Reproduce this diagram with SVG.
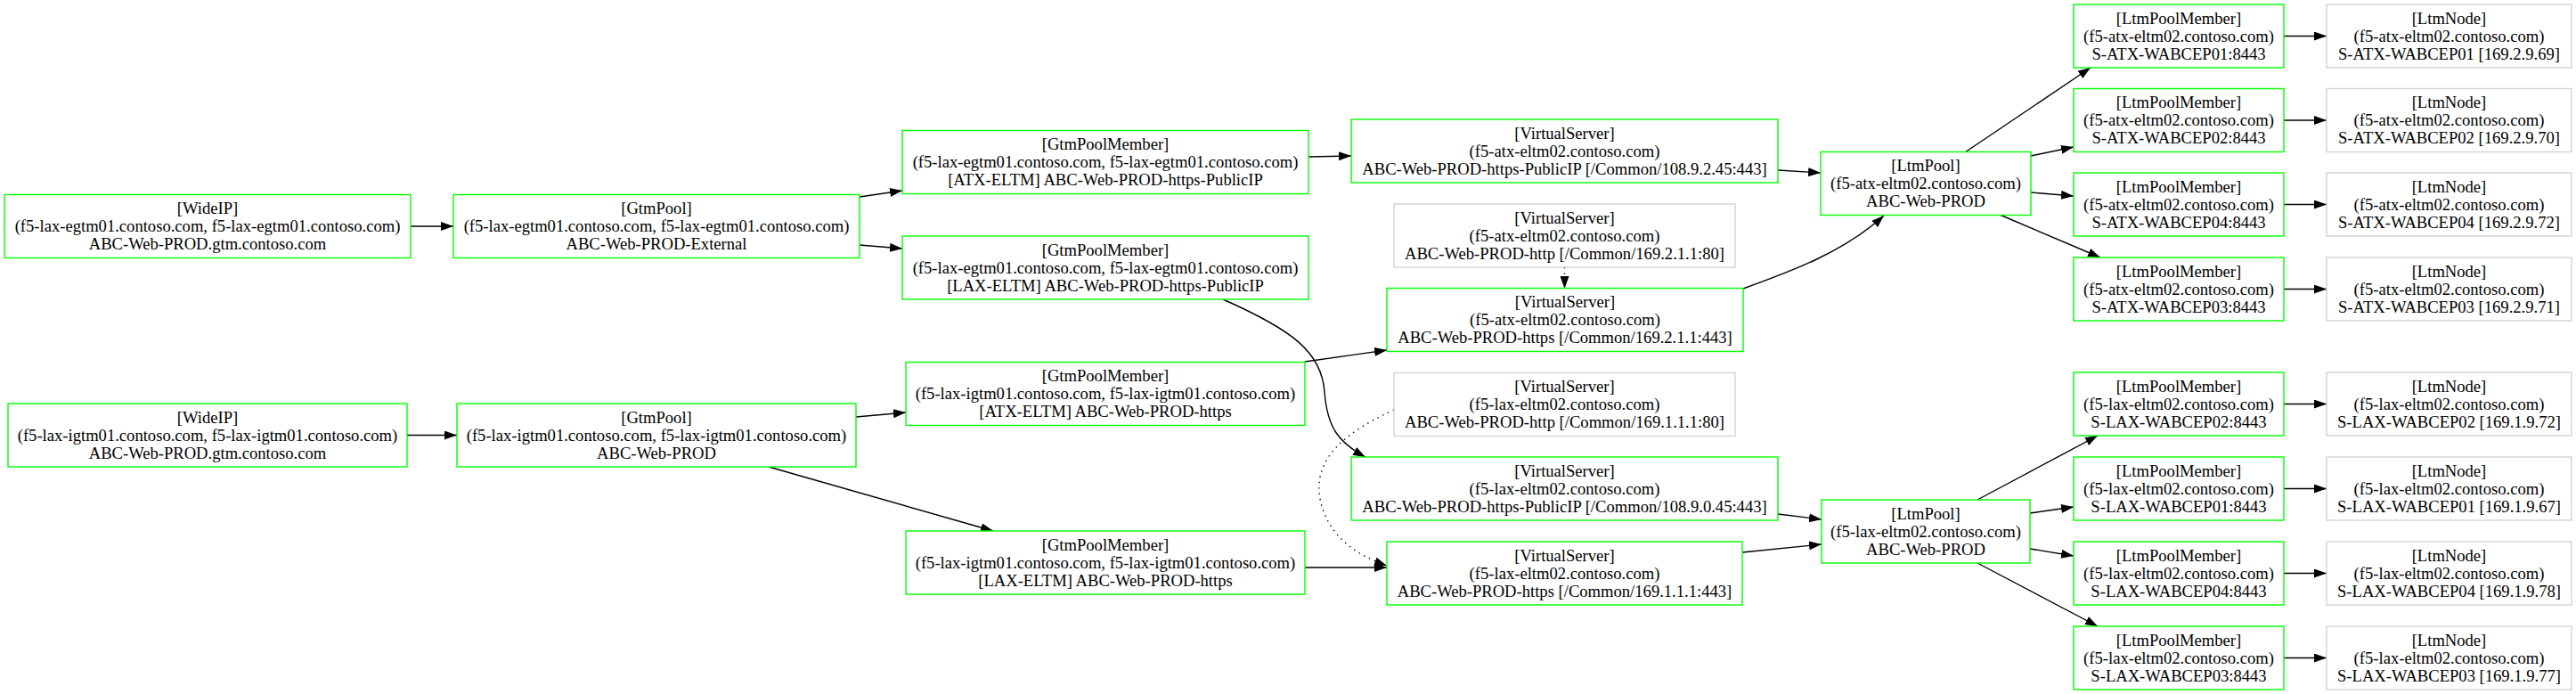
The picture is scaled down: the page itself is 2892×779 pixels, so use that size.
<svg xmlns="http://www.w3.org/2000/svg" width="2892" height="779" viewBox="0 0 2892 779">
<defs>
<style>
.node rect{fill:#ffffff;stroke-width:1.4}
.g rect{stroke:#00ff00}
.n rect{stroke:#d3d3d3}
.node text{font-family:"Liberation Serif","Times New Roman",serif;font-size:18.6px;fill:#000000;text-anchor:middle}
.edges path{fill:none;stroke:#000000;stroke-width:1.4}
.edges path.dot{stroke-dasharray:1.4,5}
</style>
<marker id="ah" markerUnits="userSpaceOnUse" markerWidth="15" markerHeight="10" refX="14" refY="5" orient="auto">
<path d="M0,0 L14,5 L0,10 z" fill="#000000"/>
</marker>
</defs>
<rect x="0" y="0" width="2892" height="779" fill="#ffffff"/>

<g class="edges" marker-end="url(#ah)">
<path d="M461,254 L509,254" marker-end="url(#ah)"/>
<path d="M457,488.5 L513,488.5" marker-end="url(#ah)"/>
<path d="M965,221 L1013,214" marker-end="url(#ah)"/>
<path d="M965,275 L1013,279" marker-end="url(#ah)"/>
<path d="M961,468 L1017,463" marker-end="url(#ah)"/>
<path d="M863,524 L1115,596" marker-end="url(#ah)"/>
<path d="M1469,176 L1517,175" marker-end="url(#ah)"/>
<path d="M1373,336 C1450,370 1484,395 1487,440 C1490,480 1503,497 1533,513" marker-end="url(#ah)"/>
<path d="M1465,406 L1557,393" marker-end="url(#ah)"/>
<path d="M1465,637 L1557,637" marker-end="url(#ah)"/>
<path class="dot" d="M1756.5,300 L1756.5,324" marker-end="url(#ah)"/>
<path class="dot" d="M1565,460 C1500,490 1475,520 1482,560 C1490,600 1520,622 1557,635" marker-end="url(#ah)"/>
<path d="M1996,191 L2044,194" marker-end="url(#ah)"/>
<path d="M1957,324 C2010,305 2070,283 2115,242" marker-end="url(#ah)"/>
<path d="M1996,577 L2045,583" marker-end="url(#ah)"/>
<path d="M1956,620 L2045,611" marker-end="url(#ah)"/>
<path d="M2206,171 L2347,76" marker-end="url(#ah)"/>
<path d="M2280,175 L2328,165" marker-end="url(#ah)"/>
<path d="M2280,216 L2328,220" marker-end="url(#ah)"/>
<path d="M2245,241 L2358,289" marker-end="url(#ah)"/>
<path d="M2220,561 L2355,489" marker-end="url(#ah)"/>
<path d="M2279,576 L2328,569" marker-end="url(#ah)"/>
<path d="M2279,616 L2328,624" marker-end="url(#ah)"/>
<path d="M2220,632 L2355,703" marker-end="url(#ah)"/>
<path d="M2564,40.5 L2612,40.5" marker-end="url(#ah)"/>
<path d="M2564,135 L2612,135" marker-end="url(#ah)"/>
<path d="M2564,229.5 L2612,229.5" marker-end="url(#ah)"/>
<path d="M2564,324.5 L2612,324.5" marker-end="url(#ah)"/>
<path d="M2564,453.5 L2612,453.5" marker-end="url(#ah)"/>
<path d="M2564,548.5 L2612,548.5" marker-end="url(#ah)"/>
<path d="M2564,643.5 L2612,643.5" marker-end="url(#ah)"/>
<path d="M2564,738.5 L2612,738.5" marker-end="url(#ah)"/>
</g>

<g id="wideip_atx" class="node g"><rect x="5" y="218.5" width="456" height="71"/><text><tspan x="233" y="240">[WideIP]</tspan><tspan x="233" y="260">(f5-lax-egtm01.contoso.com, f5-lax-egtm01.contoso.com)</tspan><tspan x="233" y="280">ABC-Web-PROD.gtm.contoso.com</tspan></text></g>
<g id="wideip_lax" class="node g"><rect x="9" y="453" width="448" height="71"/><text><tspan x="233" y="474.5">[WideIP]</tspan><tspan x="233" y="494.5">(f5-lax-igtm01.contoso.com, f5-lax-igtm01.contoso.com)</tspan><tspan x="233" y="514.5">ABC-Web-PROD.gtm.contoso.com</tspan></text></g>

<g id="gtmpool_atx" class="node g"><rect x="509" y="218.5" width="456" height="71"/><text><tspan x="737" y="240">[GtmPool]</tspan><tspan x="737" y="260">(f5-lax-egtm01.contoso.com, f5-lax-egtm01.contoso.com)</tspan><tspan x="737" y="280">ABC-Web-PROD-External</tspan></text></g>
<g id="gtmpool_lax" class="node g"><rect x="513" y="453" width="448" height="71"/><text><tspan x="737" y="474.5">[GtmPool]</tspan><tspan x="737" y="494.5">(f5-lax-igtm01.contoso.com, f5-lax-igtm01.contoso.com)</tspan><tspan x="737" y="514.5">ABC-Web-PROD</tspan></text></g>

<g id="gpm_atx_e" class="node g"><rect x="1013" y="146.5" width="456" height="71"/><text><tspan x="1241" y="168">[GtmPoolMember]</tspan><tspan x="1241" y="188">(f5-lax-egtm01.contoso.com, f5-lax-egtm01.contoso.com)</tspan><tspan x="1241" y="208">[ATX-ELTM] ABC-Web-PROD-https-PublicIP</tspan></text></g>
<g id="gpm_lax_e" class="node g"><rect x="1013" y="265" width="456" height="71"/><text><tspan x="1241" y="286.5">[GtmPoolMember]</tspan><tspan x="1241" y="306.5">(f5-lax-egtm01.contoso.com, f5-lax-egtm01.contoso.com)</tspan><tspan x="1241" y="326.5">[LAX-ELTM] ABC-Web-PROD-https-PublicIP</tspan></text></g>
<g id="gpm_atx_i" class="node g"><rect x="1017" y="406.5" width="448" height="71"/><text><tspan x="1241" y="428">[GtmPoolMember]</tspan><tspan x="1241" y="448">(f5-lax-igtm01.contoso.com, f5-lax-igtm01.contoso.com)</tspan><tspan x="1241" y="468">[ATX-ELTM] ABC-Web-PROD-https</tspan></text></g>
<g id="gpm_lax_i" class="node g"><rect x="1017" y="596" width="448" height="71"/><text><tspan x="1241" y="617.5">[GtmPoolMember]</tspan><tspan x="1241" y="637.5">(f5-lax-igtm01.contoso.com, f5-lax-igtm01.contoso.com)</tspan><tspan x="1241" y="657.5">[LAX-ELTM] ABC-Web-PROD-https</tspan></text></g>

<g id="vs_atx_pub" class="node g"><rect x="1517" y="134" width="479" height="71"/><text><tspan x="1756.5" y="155.5">[VirtualServer]</tspan><tspan x="1756.5" y="175.5">(f5-atx-eltm02.contoso.com)</tspan><tspan x="1756.5" y="195.5">ABC-Web-PROD-https-PublicIP [/Common/108.9.2.45:443]</tspan></text></g>
<g id="vs_atx_http" class="node n"><rect x="1565" y="229" width="383" height="71"/><text><tspan x="1756.5" y="250.5">[VirtualServer]</tspan><tspan x="1756.5" y="270.5">(f5-atx-eltm02.contoso.com)</tspan><tspan x="1756.5" y="290.5">ABC-Web-PROD-http [/Common/169.2.1.1:80]</tspan></text></g>
<g id="vs_atx_https" class="node g"><rect x="1557" y="323.5" width="400" height="71"/><text><tspan x="1757" y="345">[VirtualServer]</tspan><tspan x="1757" y="365">(f5-atx-eltm02.contoso.com)</tspan><tspan x="1757" y="385">ABC-Web-PROD-https [/Common/169.2.1.1:443]</tspan></text></g>
<g id="vs_lax_http" class="node n"><rect x="1565" y="418.5" width="383" height="71"/><text><tspan x="1756.5" y="440">[VirtualServer]</tspan><tspan x="1756.5" y="460">(f5-lax-eltm02.contoso.com)</tspan><tspan x="1756.5" y="480">ABC-Web-PROD-http [/Common/169.1.1.1:80]</tspan></text></g>
<g id="vs_lax_pub" class="node g"><rect x="1517" y="513" width="479" height="71"/><text><tspan x="1756.5" y="534.5">[VirtualServer]</tspan><tspan x="1756.5" y="554.5">(f5-lax-eltm02.contoso.com)</tspan><tspan x="1756.5" y="574.5">ABC-Web-PROD-https-PublicIP [/Common/108.9.0.45:443]</tspan></text></g>
<g id="vs_lax_https" class="node g"><rect x="1557" y="608" width="399" height="71"/><text><tspan x="1756.5" y="629.5">[VirtualServer]</tspan><tspan x="1756.5" y="649.5">(f5-lax-eltm02.contoso.com)</tspan><tspan x="1756.5" y="669.5">ABC-Web-PROD-https [/Common/169.1.1.1:443]</tspan></text></g>

<g id="ltmpool_atx" class="node g"><rect x="2044" y="170.5" width="236" height="71"/><text><tspan x="2162" y="192">[LtmPool]</tspan><tspan x="2162" y="212">(f5-atx-eltm02.contoso.com)</tspan><tspan x="2162" y="232">ABC-Web-PROD</tspan></text></g>
<g id="ltmpool_lax" class="node g"><rect x="2045" y="561" width="234" height="71"/><text><tspan x="2162" y="582.5">[LtmPool]</tspan><tspan x="2162" y="602.5">(f5-lax-eltm02.contoso.com)</tspan><tspan x="2162" y="622.5">ABC-Web-PROD</tspan></text></g>

<g id="lpm_atx_01" class="node g"><rect x="2328" y="5" width="236" height="71"/><text><tspan x="2446" y="26.5">[LtmPoolMember]</tspan><tspan x="2446" y="46.5">(f5-atx-eltm02.contoso.com)</tspan><tspan x="2446" y="66.5">S-ATX-WABCEP01:8443</tspan></text></g>
<g id="lpm_atx_02" class="node g"><rect x="2328" y="99.5" width="236" height="71"/><text><tspan x="2446" y="121">[LtmPoolMember]</tspan><tspan x="2446" y="141">(f5-atx-eltm02.contoso.com)</tspan><tspan x="2446" y="161">S-ATX-WABCEP02:8443</tspan></text></g>
<g id="lpm_atx_04" class="node g"><rect x="2328" y="194" width="236" height="71"/><text><tspan x="2446" y="215.5">[LtmPoolMember]</tspan><tspan x="2446" y="235.5">(f5-atx-eltm02.contoso.com)</tspan><tspan x="2446" y="255.5">S-ATX-WABCEP04:8443</tspan></text></g>
<g id="lpm_atx_03" class="node g"><rect x="2328" y="289" width="236" height="71"/><text><tspan x="2446" y="310.5">[LtmPoolMember]</tspan><tspan x="2446" y="330.5">(f5-atx-eltm02.contoso.com)</tspan><tspan x="2446" y="350.5">S-ATX-WABCEP03:8443</tspan></text></g>
<g id="lpm_lax_02" class="node g"><rect x="2328" y="418" width="236" height="71"/><text><tspan x="2446" y="439.5">[LtmPoolMember]</tspan><tspan x="2446" y="459.5">(f5-lax-eltm02.contoso.com)</tspan><tspan x="2446" y="479.5">S-LAX-WABCEP02:8443</tspan></text></g>
<g id="lpm_lax_01" class="node g"><rect x="2328" y="513" width="236" height="71"/><text><tspan x="2446" y="534.5">[LtmPoolMember]</tspan><tspan x="2446" y="554.5">(f5-lax-eltm02.contoso.com)</tspan><tspan x="2446" y="574.5">S-LAX-WABCEP01:8443</tspan></text></g>
<g id="lpm_lax_04" class="node g"><rect x="2328" y="608" width="236" height="71"/><text><tspan x="2446" y="629.5">[LtmPoolMember]</tspan><tspan x="2446" y="649.5">(f5-lax-eltm02.contoso.com)</tspan><tspan x="2446" y="669.5">S-LAX-WABCEP04:8443</tspan></text></g>
<g id="lpm_lax_03" class="node g"><rect x="2328" y="703" width="236" height="71"/><text><tspan x="2446" y="724.5">[LtmPoolMember]</tspan><tspan x="2446" y="744.5">(f5-lax-eltm02.contoso.com)</tspan><tspan x="2446" y="764.5">S-LAX-WABCEP03:8443</tspan></text></g>

<g id="node_atx_01" class="node n"><rect x="2612" y="5" width="275" height="71"/><text><tspan x="2749.5" y="26.5">[LtmNode]</tspan><tspan x="2749.5" y="46.5">(f5-atx-eltm02.contoso.com)</tspan><tspan x="2749.5" y="66.5">S-ATX-WABCEP01 [169.2.9.69]</tspan></text></g>
<g id="node_atx_02" class="node n"><rect x="2612" y="99.5" width="275" height="71"/><text><tspan x="2749.5" y="121">[LtmNode]</tspan><tspan x="2749.5" y="141">(f5-atx-eltm02.contoso.com)</tspan><tspan x="2749.5" y="161">S-ATX-WABCEP02 [169.2.9.70]</tspan></text></g>
<g id="node_atx_04" class="node n"><rect x="2612" y="194" width="275" height="71"/><text><tspan x="2749.5" y="215.5">[LtmNode]</tspan><tspan x="2749.5" y="235.5">(f5-atx-eltm02.contoso.com)</tspan><tspan x="2749.5" y="255.5">S-ATX-WABCEP04 [169.2.9.72]</tspan></text></g>
<g id="node_atx_03" class="node n"><rect x="2612" y="289" width="275" height="71"/><text><tspan x="2749.5" y="310.5">[LtmNode]</tspan><tspan x="2749.5" y="330.5">(f5-atx-eltm02.contoso.com)</tspan><tspan x="2749.5" y="350.5">S-ATX-WABCEP03 [169.2.9.71]</tspan></text></g>
<g id="node_lax_02" class="node n"><rect x="2612" y="418" width="275" height="71"/><text><tspan x="2749.5" y="439.5">[LtmNode]</tspan><tspan x="2749.5" y="459.5">(f5-lax-eltm02.contoso.com)</tspan><tspan x="2749.5" y="479.5">S-LAX-WABCEP02 [169.1.9.72]</tspan></text></g>
<g id="node_lax_01" class="node n"><rect x="2612" y="513" width="275" height="71"/><text><tspan x="2749.5" y="534.5">[LtmNode]</tspan><tspan x="2749.5" y="554.5">(f5-lax-eltm02.contoso.com)</tspan><tspan x="2749.5" y="574.5">S-LAX-WABCEP01 [169.1.9.67]</tspan></text></g>
<g id="node_lax_04" class="node n"><rect x="2612" y="608" width="275" height="71"/><text><tspan x="2749.5" y="629.5">[LtmNode]</tspan><tspan x="2749.5" y="649.5">(f5-lax-eltm02.contoso.com)</tspan><tspan x="2749.5" y="669.5">S-LAX-WABCEP04 [169.1.9.78]</tspan></text></g>
<g id="node_lax_03" class="node n"><rect x="2612" y="703" width="275" height="71"/><text><tspan x="2749.5" y="724.5">[LtmNode]</tspan><tspan x="2749.5" y="744.5">(f5-lax-eltm02.contoso.com)</tspan><tspan x="2749.5" y="764.5">S-LAX-WABCEP03 [169.1.9.77]</tspan></text></g>
</svg>
